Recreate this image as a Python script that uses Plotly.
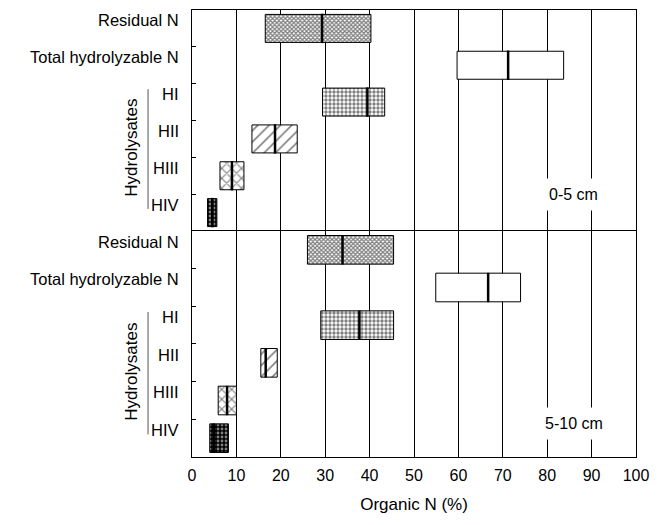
import plotly.graph_objects as go

categories = ["Residual N", "Total hydrolyzable N", "HI", "HII", "HIII", "HIV"]
top_q1 = [16.5, 59.7, 29.4, 13.5, 6.3, 3.5]
top_med = [29.3, 71.2, 39.5, 18.7, 9.0, 4.6]
top_q3 = [40.3, 83.7, 43.4, 23.7, 11.7, 5.6]
bot_q1 = [26.0, 54.9, 29.0, 15.5, 5.9, 4.0]
bot_med = [33.9, 66.7, 37.7, 16.6, 7.9, 4.9]
bot_q3 = [45.4, 74.0, 45.4, 19.2, 10.0, 8.2]
panel_labels = ["0-5 cm", "5-10 cm"]
x_ticks = list(range(0, 101, 10))

patterns = [
    dict(shape="x", size=3, solidity=0.65, fgcolor="black", bgcolor="white"),
    dict(shape="", fgcolor="black", bgcolor="white"),
    dict(shape=".", size=4, solidity=0.55, fgcolor="black", bgcolor="white"),
    dict(shape="/", size=8, solidity=0.2, fgcolor="black", bgcolor="white"),
    dict(shape="x", size=7, solidity=0.3, fgcolor="black", bgcolor="white"),
    dict(shape=".", size=4, solidity=0.4, fgcolor="white", bgcolor="black"),
]

FONT = "Liberation Sans, Arial, sans-serif"
fig = go.Figure()

panels = [
    (top_q1, top_med, top_q3, "x", "y"),
    (bot_q1, bot_med, bot_q3, "x2", "y2"),
]
for q1, med, q3, xa, ya in panels:
    for i, cat in enumerate(categories):
        fig.add_trace(go.Bar(
            y=[i], x=[q3[i] - q1[i]], base=[q1[i]], orientation="h",
            width=0.76, xaxis=xa, yaxis=ya, showlegend=False,
            marker=dict(color="white", line=dict(color="black", width=1),
                        pattern=patterns[i]),
            name=cat,
        ))
    fig.add_trace(go.Scatter(
        x=med, y=list(range(len(categories))), mode="markers",
        xaxis=xa, yaxis=ya, showlegend=False,
        marker=dict(symbol="line-ns", size=21, line=dict(color="black", width=2.5)),
    ))

split = 0.5056
common_x = dict(range=[0, 100], tickvals=x_ticks, showgrid=True, gridcolor="black",
                gridwidth=1, showline=True, linecolor="black", linewidth=1,
                zeroline=False, ticks="", fixedrange=True)
common_y = dict(range=[5.5, -0.5], tickvals=[0.5, 1.5, 2.5, 3.5, 4.5], ticks="inside",
                ticklen=4, tickcolor="black", showticklabels=False, showgrid=False,
                zeroline=False, showline=True, linecolor="black", linewidth=1, mirror=True,
                fixedrange=True)

fig.update_layout(
    width=666, height=525,
    margin=dict(l=192, r=30, t=10, b=68),
    paper_bgcolor="white", plot_bgcolor="white",
    font=dict(family=FONT, size=16, color="black"),
    barmode="overlay",
    xaxis=dict(**common_x, anchor="y", side="top", mirror=False, showticklabels=False),
    xaxis2=dict(**common_x, anchor="y2", mirror=True, showticklabels=True,
                ticklabelstandoff=4,
                tickfont=dict(size=16),
                title=dict(text="Organic N (%)", font=dict(size=17), standoff=14)),
    yaxis=dict(**common_y, domain=[split, 1], anchor="x"),
    yaxis2=dict(**common_y, domain=[0, split], anchor="x2"),
)

annotations = []
shapes = []
for ya, xa, lab, ly in [("y", "x", panel_labels[0], 4.5), ("y2", "x2", panel_labels[1], 4.6)]:
    for i, cat in enumerate(categories):
        annotations.append(dict(x=0, xref="paper", y=i, yref=ya, text=cat,
                                xanchor="right", yanchor="middle", xshift=-11, yshift=8,
                                showarrow=False, font=dict(size=16.5)))
    annotations.append(dict(x=-0.136, xref="paper", y=3.25, yref=ya, text="Hydrolysates",
                            textangle=-90, showarrow=False, font=dict(size=17),
                            xanchor="center", yanchor="middle"))
    annotations.append(dict(x=86, xref=xa, y=ly, yref=ya, text=lab, showarrow=False,
                            bgcolor="white", borderpad=7, font=dict(size=16)))
    shapes.append(dict(type="line", xref="paper", yref=ya, x0=-0.099, x1=-0.099,
                       y0=1.65, y1=4.9, line=dict(color="#555555", width=1)))

fig.update_layout(annotations=annotations, shapes=shapes)
fig.write_html("out.html", config={"displayModeBar": False},
               post_script="document.body.style.margin='0';")
